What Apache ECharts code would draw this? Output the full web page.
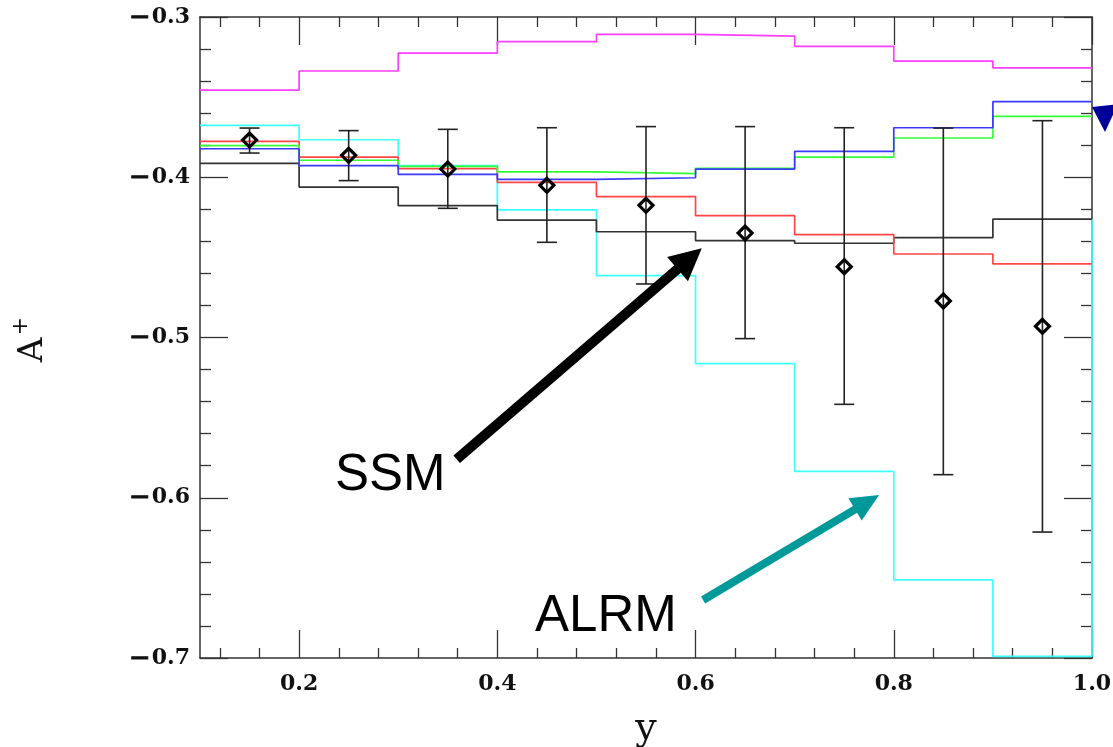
<!DOCTYPE html>
<html>
<head>
<meta charset="utf-8">
<style>
  html, body { margin: 0; padding: 0; background: #fff; }
  #chart { width: 1113px; height: 747px; }
</style>
<script src="https://cdn.jsdelivr.net/npm/echarts@6/dist/echarts.min.js"></script>
</head>
<body>
<div id="chart"></div>
<script>
// Bin edges in y and the per-bin asymmetry predicted by each model
const binEdges = [0.1, 0.2, 0.3, 0.4, 0.5, 0.6, 0.7, 0.8, 0.9, 1.0];
const magentaModel = [-0.3456, -0.3337, -0.3225, -0.3154, -0.3108, -0.3119, -0.3183, -0.3275, -0.3318];
const cyanModel    = [-0.3676, -0.3766, -0.3928, -0.4204, -0.4614, -0.5163, -0.5835, -0.6513, -0.6990];
const redModel     = [-0.3776, -0.3874, -0.3946, -0.4032, -0.4121, -0.4240, -0.4358, -0.4479, -0.4541];
const greenModel   = [-0.3803, -0.3894, -0.3932, -0.3967, -0.3978, -0.3944, -0.3874, -0.3755, -0.3620];
const blueModel    = [-0.3822, -0.3928, -0.3982, -0.4013, -0.4003, -0.3949, -0.3838, -0.3691, -0.3528];
const blackModel   = [-0.3913, -0.4061, -0.4177, -0.4267, -0.4340, -0.4396, -0.4412, -0.4377, -0.4261];
// the cyan outline closes up the right-hand edge to this level
const cyanRightEdge = -0.4261;

// Measured points with their error bars
const pointY    = [0.15, 0.25, 0.35, 0.45, 0.55, 0.65, 0.75, 0.85, 0.95];
const pointA    = [-0.3768, -0.3863, -0.3949, -0.4050, -0.4175, -0.4348, -0.4558, -0.4772, -0.4930];
const pointHigh = [-0.3693, -0.3709, -0.3701, -0.3691, -0.3684, -0.3684, -0.3691, -0.3693, -0.3647];
const pointLow  = [-0.3849, -0.4021, -0.4194, -0.4406, -0.4666, -0.5007, -0.5417, -0.5856, -0.6214];

// Tick positions
const xMajorTicks = [0.2, 0.4, 0.6, 0.8, 1.0];
const xMinorTicks = [0.12, 0.16, 0.24, 0.28, 0.32, 0.36, 0.44, 0.48, 0.52, 0.56,
                     0.64, 0.68, 0.72, 0.76, 0.84, 0.88, 0.92, 0.96];
const yTickLabels = [-0.7, -0.6, -0.5, -0.4, -0.3];

// Annotation anchors, in data coordinates
const ssmArrow  = { from: [0.359, -0.576], to: [0.6063, -0.4443] };
const alrmArrow = { from: [0.6076, -0.6638], to: [0.7852, -0.5983] };
const ssmLabel  = [0.2362, -0.5864];
const alrmLabel = [0.438, -0.6744];
const blueArrowTip = [1.0, -0.3562];

const frame = '#333';
const labelFont = 'DejaVu Serif';

function histogram(values, closeTo) {
  const pts = values.map((v, i) => [binEdges[i], v]);
  pts.push([binEdges[binEdges.length - 1], values[values.length - 1]]);
  if (closeTo !== undefined) pts.push([binEdges[binEdges.length - 1], closeTo]);
  return pts;
}

function stepSeries(name, values, color, closeTo) {
  return {
    name, type: 'line', step: 'end', symbol: 'none',
    xAxisIndex: 0, yAxisIndex: 0,
    data: histogram(values, closeTo),
    lineStyle: { color, width: 1.7 },
    animation: false, z: 3
  };
}

function xAxisPair(position, withLabels) {
  const base = {
    type: 'value', position, min: 0.1, max: 1.0,
    splitLine: { show: false }, axisPointer: { show: false }
  };
  return [
    Object.assign({}, base, {
      axisLine: { show: true, onZero: false, lineStyle: { color: frame, width: 1.5 } },
      axisTick: { show: true, inside: true, length: 28, customValues: xMajorTicks,
                  lineStyle: { color: frame, width: 1.3 } },
      axisLabel: withLabels ? {
        show: true, customValues: xMajorTicks, margin: 15,
        fontFamily: labelFont, fontWeight: 'bold', fontSize: 22, color: '#111',
        formatter: v => v.toFixed(1)
      } : { show: false },
      name: withLabels ? 'y' : '',
      nameLocation: 'middle', nameGap: 52,
      nameTextStyle: { fontFamily: labelFont, fontSize: 38, color: '#111' }
    }),
    Object.assign({}, base, {
      axisLine: { show: false, onZero: false },
      axisTick: { show: true, inside: true, length: 10, customValues: xMinorTicks,
                  lineStyle: { color: frame, width: 1.3 } },
      axisLabel: { show: false }
    })
  ];
}

function yAxis(position, withLabels) {
  return {
    type: 'value', position, min: -0.7, max: -0.3, interval: 0.1,
    splitLine: { show: false },
    axisLine: { show: true, onZero: false, lineStyle: { color: frame, width: 1.5 } },
    axisTick: { show: true, inside: true, length: 28, lineStyle: { color: frame, width: 1.3 } },
    minorTick: { show: true, splitNumber: 5, length: 11, lineStyle: { color: frame, width: 1.3 } },
    axisLabel: withLabels ? {
      show: true, margin: 10, customValues: yTickLabels,
      fontFamily: labelFont, fontWeight: 'bold', fontSize: 22, color: '#111',
      formatter: v => '{d|\u2014}' + Math.abs(v).toFixed(1),
      rich: { d: { fontFamily: labelFont, fontWeight: 'bold', fontSize: 18, color: '#111',
                   textBorderColor: '#111', textBorderWidth: 1, padding: [0, 3, 0, 0] } }
    } : { show: false }
  };
}

const chart = echarts.init(document.getElementById('chart'), null, { renderer: 'canvas' });

const option = {
  backgroundColor: '#fff',
  animation: false,
  grid: { left: 200, right: 21, top: 17, bottom: 89, containLabel: false, outerBoundsMode: 'none' },
  xAxis: [].concat(xAxisPair('bottom', true), xAxisPair('top', false)),
  yAxis: [yAxis('left', true), yAxis('right', false)],
  series: [
    stepSeries('magenta', magentaModel, '#ff3dff'),
    stepSeries('cyan', cyanModel, '#3dffff', cyanRightEdge),
    stepSeries('black', blackModel, '#333333'),
    stepSeries('red', redModel, '#ff4545'),
    stepSeries('green', greenModel, '#33ff33'),
    stepSeries('blue', blueModel, '#3a3aff'),
    {
      name: 'data', type: 'custom', xAxisIndex: 0, yAxisIndex: 0, z: 5,
      data: pointY.map((y, i) => [y, pointA[i], pointLow[i], pointHigh[i]]),
      renderItem: function (params, api) {
        const pc = api.coord([api.value(0), api.value(1)]);
        const pl = api.coord([api.value(0), api.value(2)]);
        const ph = api.coord([api.value(0), api.value(3)]);
        const cap = 10, d = 7;
        const stroke = { stroke: '#222', lineWidth: 1.6 };
        return {
          type: 'group',
          children: [
            { type: 'line', shape: { x1: pl[0], y1: pl[1], x2: ph[0], y2: ph[1] }, style: stroke },
            { type: 'line', shape: { x1: pl[0] - cap, y1: pl[1], x2: pl[0] + cap, y2: pl[1] }, style: stroke },
            { type: 'line', shape: { x1: ph[0] - cap, y1: ph[1], x2: ph[0] + cap, y2: ph[1] }, style: stroke },
            { type: 'polygon',
              shape: { points: [[pc[0], pc[1] - d], [pc[0] + d, pc[1]], [pc[0], pc[1] + d], [pc[0] - d, pc[1]]] },
              style: { fill: 'none', stroke: '#000', lineWidth: 3.2 } }
          ]
        };
      }
    }
  ]
};
chart.setOption(option);

// Arrow annotations and labels, placed from data coordinates
function px(p) { return chart.convertToPixel({ xAxisIndex: 0, yAxisIndex: 0 }, p); }

function arrow(a, color, width, headLen, headHalf) {
  const p0 = px(a.from), p1 = px(a.to);
  const dx = p1[0] - p0[0], dy = p1[1] - p0[1];
  const len = Math.sqrt(dx * dx + dy * dy);
  const ux = dx / len, uy = dy / len;
  const bx = p1[0] - ux * headLen, by = p1[1] - uy * headLen;
  return [
    { type: 'line', shape: { x1: p0[0], y1: p0[1], x2: bx + ux * 2, y2: by + uy * 2 },
      style: { stroke: color, lineWidth: width }, z: 10 },
    { type: 'polygon',
      shape: { points: [[p1[0], p1[1]],
                        [bx - uy * headHalf, by + ux * headHalf],
                        [bx + uy * headHalf, by - ux * headHalf]] },
      style: { fill: color }, z: 10 }
  ];
}

const ssmPos = px(ssmLabel), alrmPos = px(alrmLabel), tip = px(blueArrowTip);

chart.setOption({
  graphic: [].concat(
    arrow(ssmArrow, '#000', 10, 32, 16),
    arrow(alrmArrow, '#009999', 8, 28, 13),
    [
      { type: 'text', x: ssmPos[0], y: ssmPos[1], z: 10,
        style: { text: 'SSM', font: '51px "Liberation Sans", Arial, sans-serif', fill: '#000',
                 textVerticalAlign: 'middle' } },
      { type: 'text', x: alrmPos[0], y: alrmPos[1], z: 10,
        style: { text: 'ALRM', font: '51px "Liberation Sans", Arial, sans-serif', fill: '#000',
                 textVerticalAlign: 'middle' } },
      { type: 'polygon', z: 10,
        shape: { points: [[tip[0], tip[1]], [tip[0] + 26, tip[1] - 3], [tip[0] + 13, tip[1] + 25]] },
        style: { fill: '#000099' } },
      { type: 'text', x: 33, y: 350, rotation: Math.PI / 2, z: 10,
        style: { text: 'A', font: '34px "DejaVu Serif"', fill: '#111',
                 textAlign: 'center', textVerticalAlign: 'middle' } },
      { type: 'text', x: 21, y: 326, rotation: Math.PI / 2, z: 10,
        style: { text: '+', font: '22px "DejaVu Serif"', fill: '#111',
                 textAlign: 'center', textVerticalAlign: 'middle' } }
    ]
  )
});
</script>
</body>
</html>
